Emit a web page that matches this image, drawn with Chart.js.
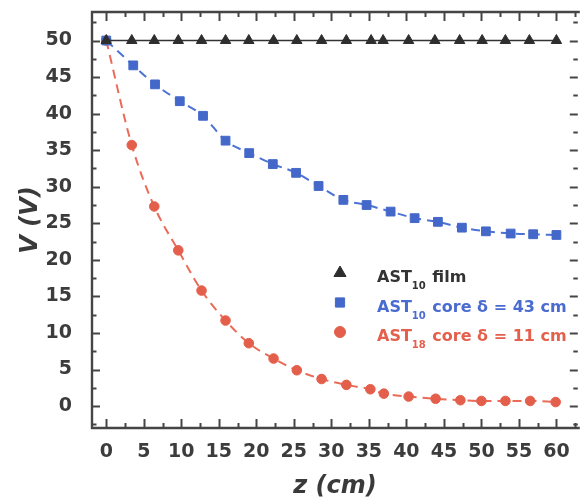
<!DOCTYPE html>
<html>
<head>
<meta charset="utf-8">
<script src="https://cdn.jsdelivr.net/npm/chart.js@4/dist/chart.umd.min.js"></script>
<style>
  html, body { margin: 0; padding: 0; background: #fff; }
  #c { display: block; }
</style>
</head>
<body>
<canvas id="c" width="585" height="504"></canvas>
<script>
// Axis tick values
const xTickValues = [0, 5, 10, 15, 20, 25, 30, 35, 40, 45, 50, 55, 60];
const yTickValues = [0, 5, 10, 15, 20, 25, 30, 35, 40, 45, 50];

// AST10 film
const zFilm = [0, 3.4, 6.4, 9.6, 12.7, 15.9, 19.0, 22.3, 25.4, 28.7, 32.0, 35.3, 36.9, 40.3, 43.8, 47.1, 50.1, 53.2, 56.4, 60.0];
const vFilm = [50, 50, 50, 50, 50, 50, 50, 50, 50, 50, 50, 50, 50, 50, 50, 50, 50, 50, 50, 50];

// AST10 core, delta = 43 cm
const zCore10 = [0, 3.6, 6.5, 9.8, 12.9, 15.9, 19.05, 22.2, 25.3, 28.3, 31.6, 34.7, 37.9, 41.1, 44.2, 47.4, 50.6, 53.9, 56.9, 60.0];
const vCore10 = [50, 46.6, 44.0, 41.7, 39.7, 36.3, 34.6, 33.1, 31.9, 30.1, 28.2, 27.5, 26.6, 25.7, 25.2, 24.4, 23.9, 23.6, 23.5, 23.4];

// AST18 core, delta = 11 cm
const zCore18 = [0, 3.4, 6.4, 9.6, 12.7, 15.9, 19.0, 22.3, 25.4, 28.7, 32.0, 35.2, 37.0, 40.3, 43.9, 47.2, 50.0, 53.2, 56.5, 59.9];
const vCore18 = [50, 35.7, 27.3, 21.3, 15.8, 11.7, 8.6, 6.5, 4.9, 3.7, 2.9, 2.3, 1.7, 1.3, 1.0, 0.8, 0.7, 0.7, 0.7, 0.55];

// Legend text: [main, subscript, remainder]
const seriesNames = [
  ['AST', '10', ' film'],
  ['AST', '10', ' core \u03b4 = 43 cm'],
  ['AST', '18', ' core \u03b4 = 11 cm']
];

const toPoints = (xs, ys) => xs.map((x, i) => ({ x: x, y: ys[i] }));

const FONT = '"DejaVu Sans", sans-serif';
const AXIS_COLOR = '#454545';

// Closed frame with inward major/minor ticks on all sides
const frameAxes = {
  id: 'frameAxes',
  beforeDatasetsDraw(chart) {
    const { ctx, chartArea: a, scales: { x, y } } = chart;
    ctx.save();
    ctx.strokeStyle = AXIS_COLOR;
    ctx.lineWidth = 2.4;
    ctx.beginPath();
    ctx.moveTo(a.right + 2, a.top);
    ctx.lineTo(a.left, a.top);
    ctx.lineTo(a.left, a.bottom);
    ctx.lineTo(a.right + 2, a.bottom);
    ctx.stroke();

    ctx.lineWidth = 2;
    const seg = (x1, y1, x2, y2) => { ctx.beginPath(); ctx.moveTo(x1, y1); ctx.lineTo(x2, y2); ctx.stroke(); };

    const xStep = xTickValues[1] - xTickValues[0];
    const xHalf = xStep / 2;
    for (let v = Math.ceil(x.min / xHalf) * xHalf; v <= x.max + 1e-9; v += xHalf) {
      const px = Math.round(x.getPixelForValue(v)) + 0.5;
      const major = Math.abs(v / xStep - Math.round(v / xStep)) < 1e-6;
      const len = major ? 9 : 5;
      seg(px, a.bottom, px, a.bottom - len);
      seg(px, a.top, px, a.top + len);
    }

    const yStep = yTickValues[1] - yTickValues[0];
    const yHalf = yStep / 2;
    for (let v = Math.ceil(y.min / yHalf) * yHalf; v <= y.max + 1e-9; v += yHalf) {
      const py = Math.round(y.getPixelForValue(v)) + 0.5;
      const major = Math.abs(v / yStep - Math.round(v / yStep)) < 1e-6;
      const len = major ? 8 : 4.5;
      seg(a.left, py, a.left + len, py);
      seg(a.right, py, a.right - len, py);
    }
    ctx.restore();
  }
};

// Legend with subscripted series names
const subLegend = {
  id: 'subLegend',
  afterDatasetsDraw(chart) {
    const { ctx, chartArea: a } = chart;
    const markerX = a.left + 248;
    const textX = a.left + 285;
    const firstBase = a.top + 270;
    const rowGap = 29.5;
    ctx.save();
    chart.data.datasets.forEach((ds, i) => {
      const base = firstBase + i * rowGap;
      ctx.fillStyle = ds.backgroundColor;
      ctx.strokeStyle = ds.backgroundColor;
      Chart.helpers.drawPoint(ctx, {
        pointStyle: ds.pointStyle,
        radius: ds.legendRadius,
        rotation: 0,
        borderWidth: 1
      }, markerX, base - 9);

      const [main, sub, rest] = seriesNames[i];
      ctx.fillStyle = ds.legendColor;
      ctx.textBaseline = 'alphabetic';
      ctx.textAlign = 'left';
      ctx.font = 'bold 16px ' + FONT;
      ctx.fillText(main, textX, base);
      let cx = textX + ctx.measureText(main).width;
      ctx.font = 'bold 10px ' + FONT;
      ctx.fillText(sub, cx, base + 7);
      cx += ctx.measureText(sub).width + 1;
      ctx.font = 'bold 16px ' + FONT;
      ctx.fillText(rest, cx, base);
    });
    ctx.restore();
  }
};

const tickFont = { family: FONT, weight: 'bold', size: 19 };
const titleFont = { family: FONT, weight: 'bold', style: 'italic', size: 24 };

new Chart(document.getElementById('c'), {
  type: 'scatter',
  data: {
    datasets: [
      {
        label: 'AST10 film',
        data: toPoints(zFilm, vFilm),
        showLine: true,
        borderColor: '#333333',
        borderWidth: 1.6,
        backgroundColor: '#2e2e2e',
        pointBackgroundColor: '#2e2e2e',
        pointBorderColor: '#2e2e2e',
        pointStyle: 'triangle',
        pointRadius: 6,
        pointBorderWidth: 1,
        legendRadius: 7,
        legendColor: '#333333',
        order: 0
      },
      {
        label: 'AST10 core',
        data: toPoints(zCore10, vCore10),
        showLine: true,
        borderColor: '#4b72d4',
        borderWidth: 2,
        borderDash: [9, 6],
        cubicInterpolationMode: 'monotone',
        backgroundColor: '#4468c9',
        pointBackgroundColor: '#4468c9',
        pointBorderColor: '#4468c9',
        pointStyle: 'rect',
        pointRadius: 6.2,
        pointBorderWidth: 1,
        legendRadius: 6.5,
        legendColor: '#4a6bd0',
        order: 1
      },
      {
        label: 'AST18 core',
        data: toPoints(zCore18, vCore18),
        showLine: true,
        borderColor: '#ea6b57',
        borderWidth: 2,
        borderDash: [9, 6],
        cubicInterpolationMode: 'monotone',
        backgroundColor: '#e45f4b',
        pointBackgroundColor: '#e45f4b',
        pointBorderColor: '#e45f4b',
        pointStyle: 'circle',
        pointRadius: 4.8,
        pointBorderWidth: 1,
        legendRadius: 5.5,
        legendColor: '#e4604c',
        order: 2
      }
    ]
  },
  options: {
    responsive: false,
    animation: false,
    devicePixelRatio: 1,
    layout: { padding: { left: 0, top: 12, right: 0, bottom: 0 } },
    plugins: { legend: { display: false }, tooltip: { enabled: false } },
    scales: {
      x: {
        type: 'linear',
        min: -1.9,
        max: 62.85,
        grid: { display: false },
        border: { display: false },
        afterBuildTicks: (s) => { s.ticks = xTickValues.map(v => ({ value: v })); },
        afterFit: (s) => { s.height = 76; s.paddingLeft = 0; s.paddingRight = 0; },
        ticks: { padding: 5, color: '#3c3c3c', font: tickFont, maxRotation: 0, autoSkip: false },
        title: { display: true, text: 'z (cm)', color: '#3a3a3a', font: titleFont, padding: { top: 0, bottom: 3 } }
      },
      y: {
        type: 'linear',
        min: -3,
        max: 53.9,
        grid: { display: false },
        border: { display: false },
        afterBuildTicks: (s) => { s.ticks = yTickValues.map(v => ({ value: v })); },
        afterFit: (s) => { s.width = 92; s.paddingTop = 0; s.paddingBottom = 0; },
        ticks: { padding: 12, color: '#3c3c3c', font: tickFont, autoSkip: false },
        title: { display: true, text: 'V (V)', color: '#3a3a3a', font: titleFont, padding: { top: 16, bottom: 0 } }
      }
    }
  },
  plugins: [frameAxes, subLegend]
});
</script>
</body>
</html>
